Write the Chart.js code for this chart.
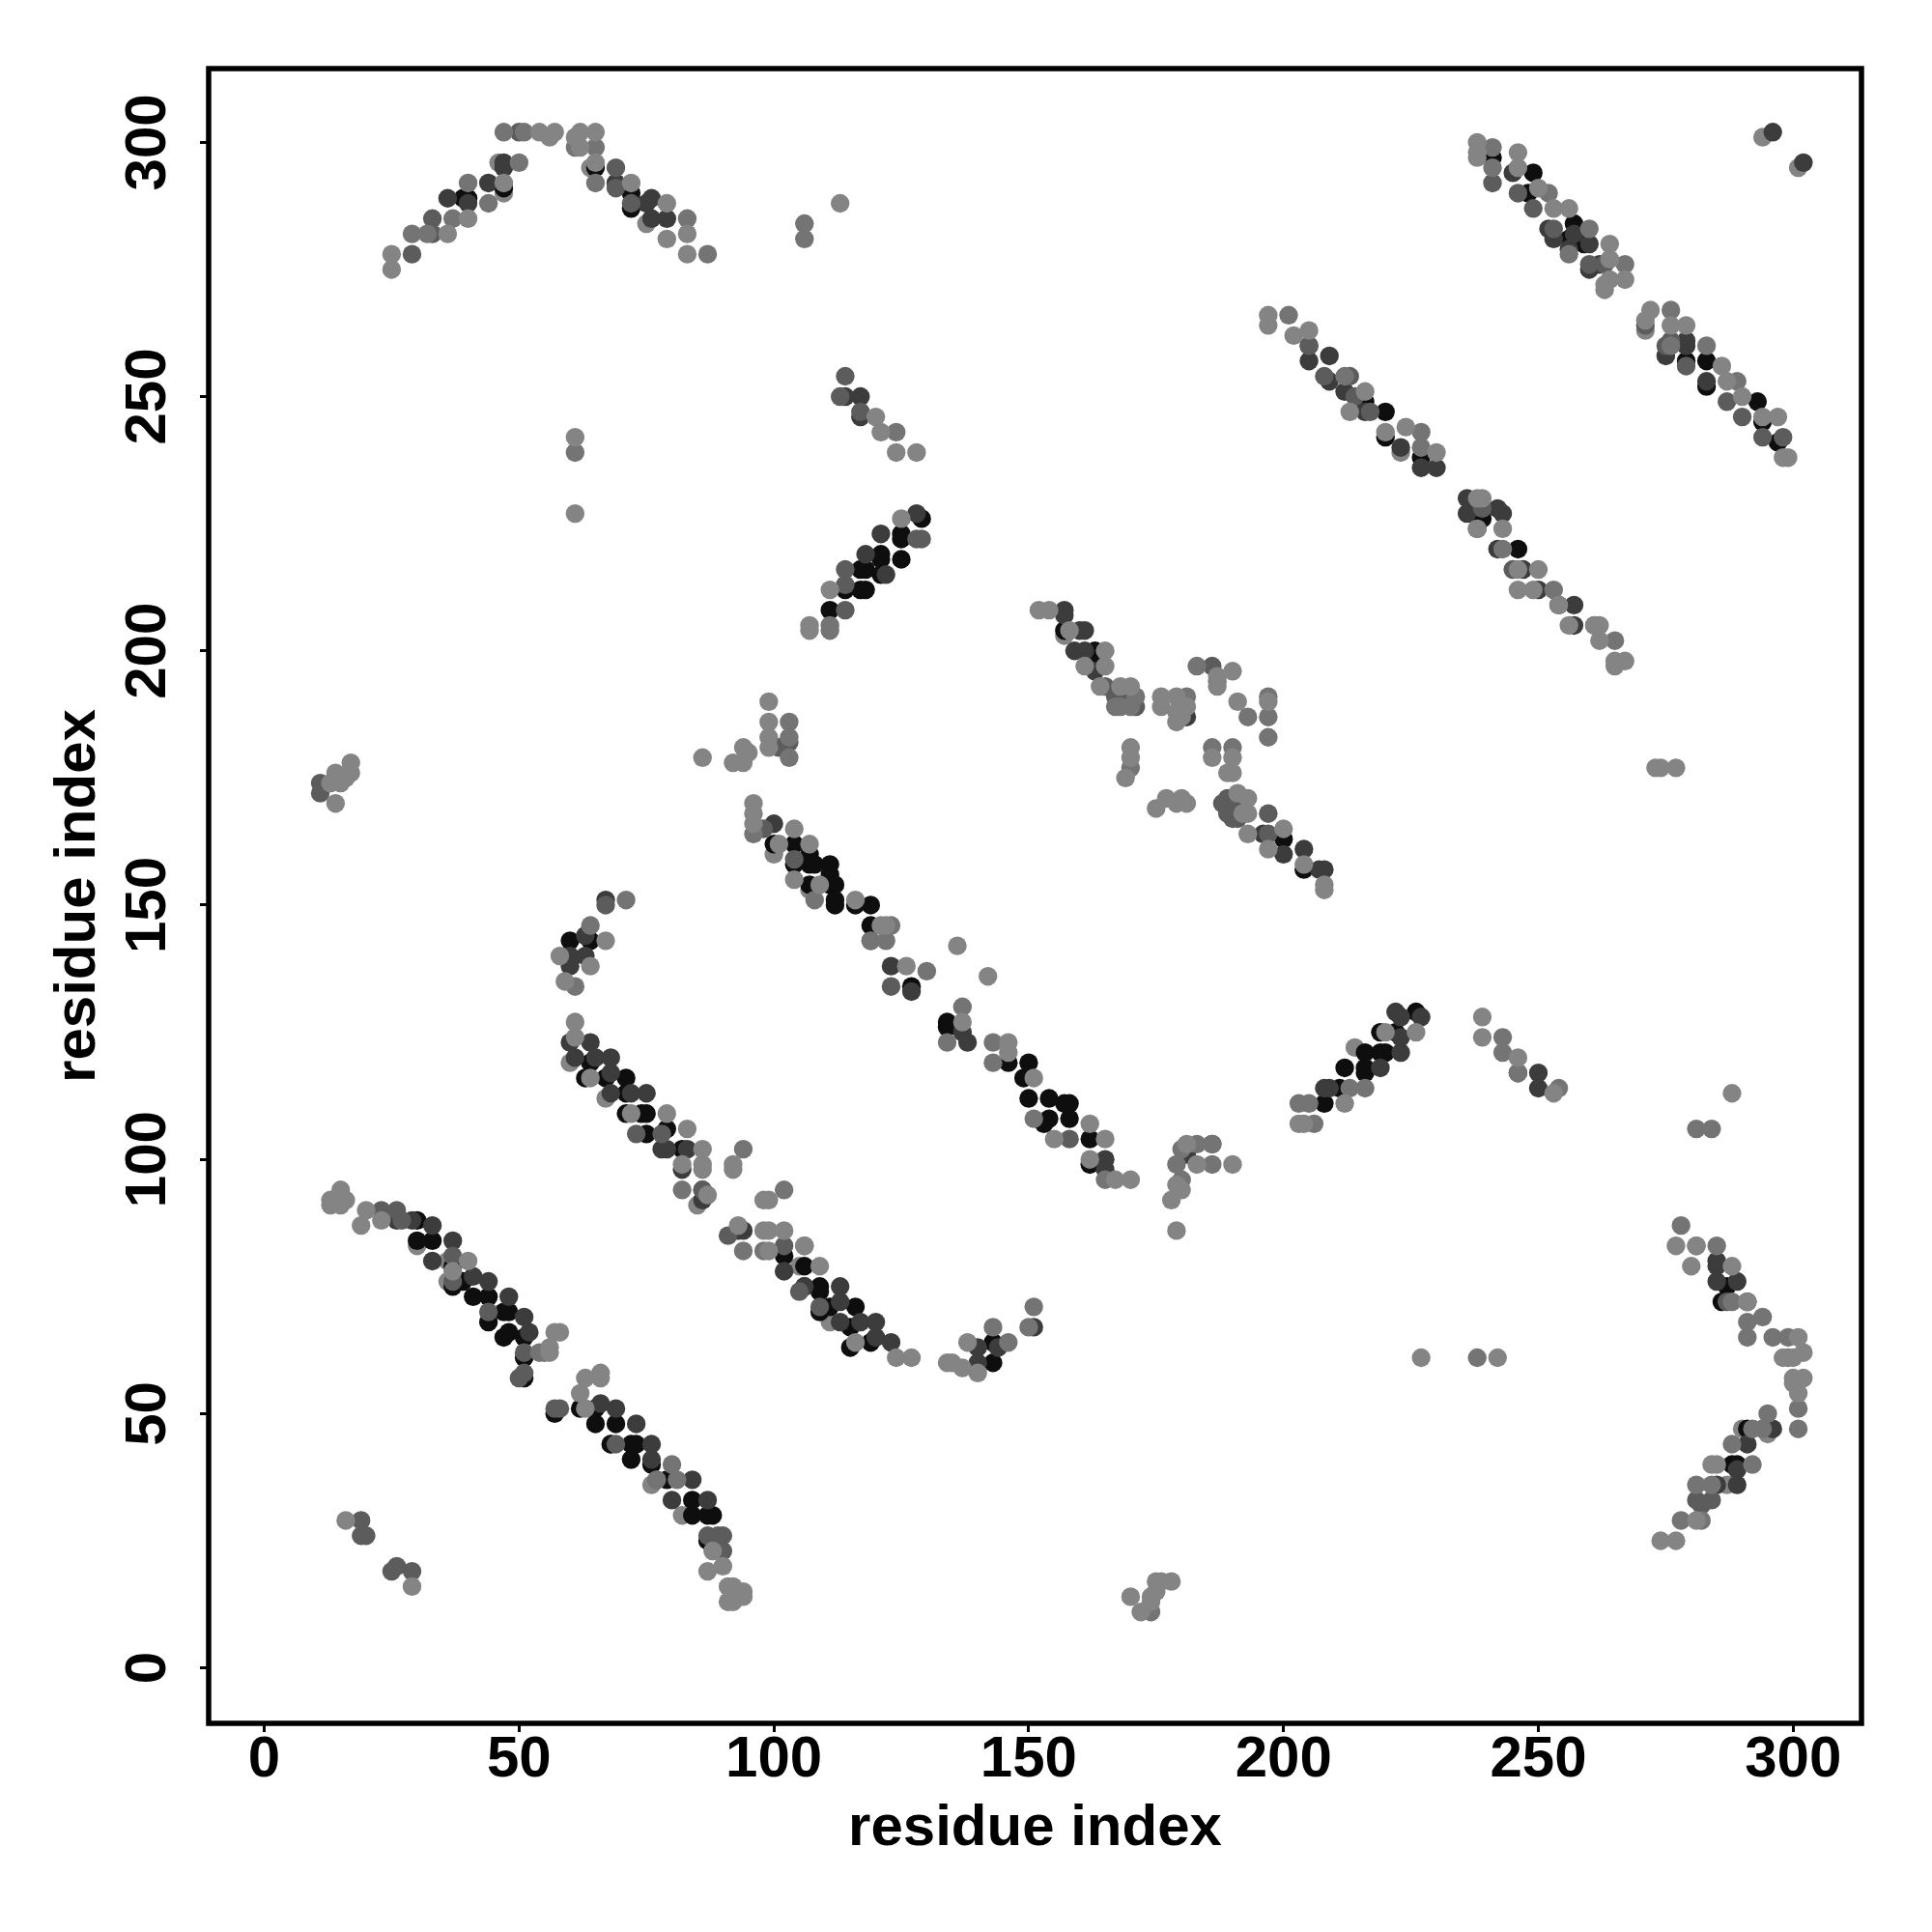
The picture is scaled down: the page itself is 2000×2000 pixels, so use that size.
<!DOCTYPE html>
<html lang="en">
<head>
  <meta charset="UTF-8" />
  <title>Residue contact map</title>
  <script src="https://cdn.jsdelivr.net/npm/chart.js"></script>
  <style>
    body { margin: 0; background: white; }
    canvas { display: block; }
  </style>
</head>
<body>
  <canvas id="contactChart" width="2000" height="2000"></canvas>

  <script>
    const xTicks = [0, 50, 100, 150, 200, 250, 300];
    const yTicks = [0, 50, 100, 150, 200, 250, 300];
    const axisLabel = 'residue index';

    // contacts as [residue x, residue y], one list per grey level
    const lightBack = [
      [46,296],[47,290],[64,295],[75,284],[294,301],[301,295],[263,271],[197,264],[271,263],[223,239],
      [157,203],[191,190],[60,119],[67,112],[100,160],[107,153],[85,91],[105,79],[111,68],
      [30,83],[36,80],[36,76],[68,44],[72,41],[76,36],[82,30],[295,46],[290,47],[287,36],[214,122],[246,212]
    ];
    const light = [
      [25,275],[25,278],[36,282],[40,285],[47,292],[54,302],[56,301],[57,302],[61,301],[62,302],[65,302],[62,299],[65,296],[72,292],[79,288],[79,281],[83,282],[83,278],
      [113,288],[61,242],[61,227],[120,246],[121,243],[124,239],[128,239],[107,205],[107,204],[111,212],[125,226],
      [238,300],[238,298],[238,297],[246,298],[246,295],[250,291],[253,287],[256,287],[264,280],[264,277],[264,273],[267,273],[263,272],
      [272,267],[271,265],[276,264],[279,264],[286,256],[287,253],[290,250],[294,246],[297,246],[298,238],[299,238],
      [197,266],[202,262],[205,263],[213,247],[216,251],[220,243],[224,244],[230,239],
      [239,230],[238,230],[238,224],[243,224],[246,216],[250,216],[249,212],[254,209],[256,205],[261,205],[262,205],[262,202],[265,198],[267,198],[265,197],
      [152,208],[154,208],[158,204],[165,200],[161,197],[165,197],[164,193],[168,193],[170,193],[176,191],[176,189],[179,191],[181,189],[179,186],[180,187],[179,188],
      [197,190],[170,181],[170,179],[169,175],[186,179],[190,179],[189,176],[190,176],[190,196],[187,193],[187,195],
      [175,169],[177,171],[179,170],[180,171],[181,170],[191,172],[192,168],[193,171],[193,168],[193,164],[197,161],[200,165],[204,158],[208,154],[208,153],[273,177],[274,177],[277,177],
      [13,174],[14,176],[15,174],[17,178],[17,176],[16,175],[14,170],[86,179],[92,178],[94,178],[94,181],[95,180],[99,190],[99,186],[99,183],[99,181],
      [96,170],[96,168],[96,166],[104,165],[101,162],[107,162],[104,155],[109,154],[116,151],[121,146],[122,146],
      [64,138],[67,143],[58,140],[59,135],[61,127],[61,124],[64,116],[72,109],[79,109],[83,106],[86,102],[82,99],[86,99],[86,98],[92,99],[92,98],[87,93],[98,92],[99,92],[93,87],[98,86],[99,86],[102,86],[99,82],[106,83],[109,79],[116,64],[124,61],[127,61],
      [134,60],[135,60],[137,59],[138,64],[140,58],
      [13,92],[13,91],[15,94],[16,92],[15,91],[20,90],[19,87],[23,88],[40,80],[37,78],[57,66],[58,66],[56,62],[56,63],[66,58],[66,57],[63,57],[62,54],[63,51],[88,23],[90,20],[87,19],[91,16],[91,13],[94,15],[94,14],[92,13],[92,16],[16,29],[29,16],
      [170,14],[172,11],[174,14],[174,13],[175,17],[176,17],[178,17],[175,15],[227,61],[242,61],[239,128],[239,124],[246,120],[253,113],[288,113],
      [136,142],[142,136],[126,138],[137,127],[146,123],[146,121],[151,116],[162,107],[155,104],[165,104],[162,100],[167,96],[170,96],[181,103],[183,99],[190,99],[179,95],[178,92],[180,94],[179,86],
      [204,107],[203,107],[212,111],[220,125],[226,125],
      [277,83],[281,83],[280,79],[288,79],[291,72],[301,65],[298,61],[300,61],[302,62],[300,57],[302,57],[300,56],[301,54],[284,40],[285,40],[281,29],[274,25],[277,25]
    ];
    const mid = [
      [29,282],[32,282],[37,285],[40,292],[44,288],[50,296],[47,302],[51,302],[61,299],[65,299],[65,292],[83,285],[87,278],[106,284],[106,281],[61,239],[124,243],[111,205],[111,204],
      [252,290],[256,278],[260,283],[267,276],[276,260],[283,260],[289,253],[201,266],[212,254],[227,243],[241,299],[241,295],[276,267],[227,240],[265,202],[253,212],[261,205],[243,220],
      [183,197],[187,194],[197,183],[170,177],[171,191],[197,187],[193,187],[197,191],[168,189],[170,189],[167,189],[181,191],[186,181],[190,181],[174,11],
      [103,186],[103,183],[96,164],[103,179],[108,151],[119,143],[122,143],[71,151],[64,146],[61,134],
      [94,102],[82,94],[102,94],[94,82],[98,82],[106,83],[123,146],[130,137],[137,130],[134,123],[143,123],[143,119],[151,108],[165,96],[183,103],[186,103],[186,99],[179,99],[180,102],[180,96],
      [143,67],[146,64],[151,71],[150,67],[55,62],[54,62],[80,40],[81,37],[77,37],
      [203,111],[205,111],[216,114],[213,114],[243,124],[243,121],[246,117],[254,114],[238,61],[281,106],[284,106],[206,107],
      [278,87],[285,83],[281,83],[281,36],[282,29],[284,36],[288,72],[291,68],[294,69],[296,65],[299,65],[299,61],[301,51],[301,47],[295,50],[292,47],[288,44],[292,40],[278,29],[291,65],[294,47]
    ];
    const medium = [
      [29,278],[33,282],[33,285],[69,295],[69,291],[72,288],[50,302],
      [241,292],[246,290],[249,287],[253,283],[260,276],[263,276],[275,260],[276,261],[279,256],[287,249],[290,246],[294,242],[298,242],[271,264],[208,254],[213,254],[205,260],[214,250],[217,247],
      [114,254],[113,250],[117,247],[114,216],[114,213],[114,208],[128,222],[129,222],[189,171],[189,168],[191,167],[197,168],[197,164],[239,228],[245,216],
      [165,193],[167,191],[168,191],[171,189],[191,170],[190,167],[188,170],[186,197],[190,169],[189,169],
      [11,174],[11,172],[101,181],[103,182],[98,165],[104,159],[67,150],
      [73,105],[78,105],[86,94],[91,85],[102,83],[105,74],[109,71],
      [23,90],[26,90],[27,88],
      [37,81],[37,76],[44,70],[51,62],[51,58],[50,57],[57,51],[58,51],[69,44],[77,37],[87,26],[90,26],[89,26],[90,23],
      [19,29],[19,26],[20,26],[26,20],[25,19],[29,19],[119,143],[123,134],[158,104],
      [281,33],[282,32],[284,33],[287,72]
    ];
    const dark = [
      [36,289],[44,292],[47,296],[47,295],[69,292],[76,289],[75,288],[76,285],[79,285],[40,288],
      [245,294],[252,283],[253,281],[257,282],[256,279],[260,280],[260,275],[262,276],[296,302],[302,296],[205,260],[205,257],[209,258],[209,253],[212,251],[216,247],[223,240],[227,236],[230,236],
      [279,260],[279,261],[275,258],[283,253],[236,230],[236,227],[243,227],[242,228],[242,220],[238,224],[247,216],[250,212],[257,209],[254,209],[257,205],
      [114,250],[117,250],[117,246],[118,219],[121,223],[122,215],[128,227],
      [157,208],[157,207],[160,204],[161,204],[159,200],[161,200],[163,196],[196,164],[200,160],[204,161],[207,157],[208,157],
      [168,190],[170,190],[170,191],[181,187],
      [100,166],[67,151],[63,144],[63,140],[60,140],[60,138],
      [60,123],[64,123],[61,120],[65,120],[68,120],[68,117],[68,113],[72,113],[75,113],[79,102],[78,102],[83,102],[82,98],[86,92],[86,94],[94,86],[93,86],[102,78],[106,75],[113,75],[113,72],[113,68],[117,68],[120,68],[120,65],[123,64],
      [123,138],[127,133],[137,125],[138,123],[165,100],[165,98],[186,103],[181,101],[209,114],[208,114],[219,118],[223,121],[223,124],[222,129],[223,128],[227,128],[246,117],[250,117],[250,114],
      [140,63],[144,63],[151,67],[140,60],
      [26,88],[29,88],
      [33,87],[33,80],[37,84],[41,77],[44,76],[48,73],[51,69],[52,66],[66,52],[69,51],[73,48],[76,44],[76,41],[84,37],[80,33],[87,33],
      [285,80],[285,79],[285,76],[289,76],[291,44],[296,47],[285,36],[289,36],[289,39]
    ];
    const black = [
      [40,289],[39,289],[47,291],[72,290],[72,287],[65,295],
      [241,297],[249,294],[248,290],[257,284],[256,281],[259,280],[279,257],[283,257],[283,252],[293,249],[294,245],[297,241],[220,247],[220,242],[216,249],[227,238],[239,226],[246,220],
      [111,208],[114,212],[117,216],[118,216],[117,212],[118,212],[121,219],[121,218],[121,215],[125,218],[125,222],[125,223],[129,226],
      [157,204],[163,200],[163,197],[200,163],[204,157],
      [100,162],[104,162],[107,160],[104,158],[107,158],[108,158],[111,158],[111,156],[107,154],[111,154],[112,154],[112,151],[112,150],[116,150],[119,150],[119,146],
      [60,143],[64,143],[60,139],[127,134],[134,127],[134,126],[146,119],[150,119],[149,116],[150,112],[154,112],[157,111],[158,111],[154,108],[153,107],[158,108],[162,104],[162,99],
      [64,119],[63,116],[67,116],[71,116],[71,113],[71,109],[74,109],[75,109],[75,105],[79,106],[82,102],
      [102,81],[106,79],[106,75],[109,75],[109,74],[109,70],[111,71],[116,71],[115,67],[115,63],[119,64],[143,64],[143,60],
      [30,88],[30,84],[33,84],[37,79],[37,75],[39,76],[41,73],[44,73],[44,68],[47,70],[48,70],[48,66],[47,65],[51,65],[51,61],[51,57],
      [57,50],[62,51],[65,51],[65,48],[69,48],[68,44],[72,44],[73,44],[72,41],[76,40],[79,37],[84,33],[84,30],[87,30],[88,30],[87,25],
      [212,118],[216,118],[216,117],[216,121],[219,121],[220,121],[219,125],[222,125],[226,129],[208,111],[211,114],
      [291,47],[286,72],[291,72],[288,40],[289,40],[287,75]
    ];

    const toPoints = list => list.map(p => ({ x: p[0], y: p[1] }));

    // dataset 0 is painted on top in Chart.js, so light grey goes first
    const layers = [
      { data: light, color: '#848484' },
      { data: mid, color: '#747474' },
      { data: medium, color: '#5c5c5c' },
      { data: dark, color: '#3c3c3c' },
      { data: black, color: '#0e0e0e' },
      { data: lightBack, color: '#848484' }
    ];

    // box around the plot, same line as the axes
    const frame = {
      id: 'frame',
      afterDraw(chart) {
        const a = chart.chartArea;
        chart.ctx.save();
        chart.ctx.strokeStyle = '#000';
        chart.ctx.lineWidth = 5.5;
        chart.ctx.strokeRect(a.left, a.top, a.right - a.left, a.bottom - a.top);
        chart.ctx.restore();
      }
    };

    const tickFont = { family: '"Liberation Sans"', size: 60, weight: 'bold' };
    const titleFont = { family: '"Liberation Sans"', size: 60, weight: 'bold' };

    new Chart(document.getElementById('contactChart'), {
      type: 'scatter',
      data: {
        datasets: layers.map(l => ({
          data: toPoints(l.data),
          backgroundColor: l.color,
          borderWidth: 0,
          pointRadius: 9.7,
          pointHoverRadius: 9.7
        }))
      },
      options: {
        responsive: false,
        animation: false,
        events: [],
        layout: { padding: { top: 71, right: 73, left: 0, bottom: 0 } },
        plugins: { legend: { display: false }, tooltip: { enabled: false } },
        scales: {
          x: {
            type: 'linear',
            min: -10.9,
            max: 313.4,
            afterBuildTicks: s => { s.ticks = xTicks.map(v => ({ value: v })); },
            afterFit: s => { s.height = 216; },
            border: { display: false },
            grid: { drawOnChartArea: false, tickLength: 9, tickWidth: 3, tickColor: '#000' },
            ticks: { font: tickFont, color: '#000', padding: -7, maxRotation: 0, autoSkip: false },
            title: { display: true, text: axisLabel, font: titleFont, color: '#000', padding: { top: 0, bottom: 71 } }
          },
          y: {
            type: 'linear',
            min: -10.9,
            max: 314.5,
            afterBuildTicks: s => { s.ticks = yTicks.map(v => ({ value: v })); },
            afterFit: s => { s.width = 216; },
            border: { display: false },
            grid: { drawOnChartArea: false, tickLength: 9, tickWidth: 3, tickColor: '#000' },
            ticks: { font: tickFont, color: '#000', padding: 2, crossAlign: 'center', minRotation: 90, maxRotation: 90, autoSkip: false },
            title: { display: true, text: axisLabel, font: titleFont, color: '#000', padding: { top: 45, bottom: 0 } }
          }
        }
      },
      plugins: [frame]
    });
  </script>
</body>
</html>
